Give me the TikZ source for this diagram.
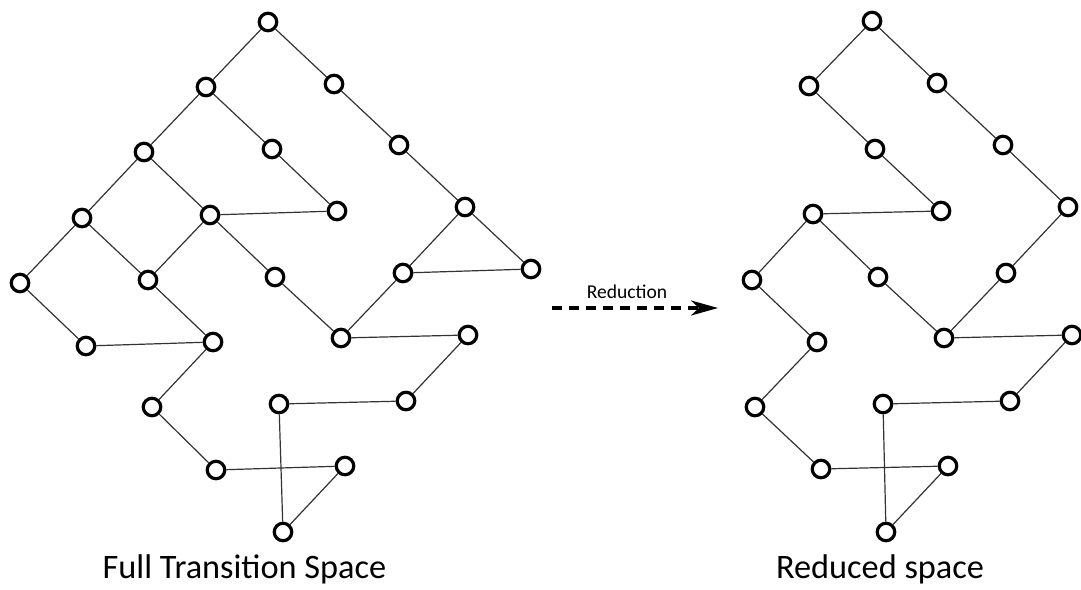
\documentclass[tikz,border=0pt]{standalone}
\usepackage{fontspec}
\setmainfont{Carlito}
\usetikzlibrary{arrows.meta}
\begin{document}
\begin{tikzpicture}[x=1pt,y=-1pt,
  state/.style={circle,draw=black,line width=3.2pt,fill=white,inner sep=0pt,minimum size=17.5pt},
  link/.style={draw=black!80,line width=1.2pt},
  caption/.style={font=\fontsize{34.3}{38}\selectfont,anchor=base}]
\useasboundingbox (0,0) rectangle (1081,589);

% ---- full transition space ----
\foreach \n/\x/\y in {a1/268/22,a2/206/87,a3/334/84,a4/144/152,a5/272/149,
  a6/399/145,a7/82/218,a8/210/215,a9/337/211,a10/465/207,a11/20/283,
  a12/148/280,a13/275/277,a14/403/273,a15/531/269,a16/86/346,a17/213/342,
  a18/341/338,a19/468/335,a20/152/407,a21/279/404,a22/406/401,a23/216/470,
  a24/345/466,a25/283/532}
  \node[state] (\n) at (\x,\y) {};

\foreach \u/\v in {a1/a2,a1/a3,a2/a4,a2/a5,a3/a6,a4/a7,a4/a8,a5/a9,a6/a10,
  a7/a11,a7/a12,a8/a12,a8/a9,a8/a13,a10/a14,a10/a15,a14/a15,a11/a16,a16/a17,
  a12/a17,a13/a18,a14/a18,a18/a19,a19/a22,a22/a21,a21/a25,a25/a24,a24/a23,
  a23/a20,a20/a17}
  \draw[link] (\u) -- (\v);

% ---- reduced space ----
\foreach \n/\x/\y in {b1/872/21,b2/809/86,b3/937/83,b5/875/149,b6/1003/145,
  b8/813/214,b9/941/211,b10/1068/207,b12/752/280,b13/878/277,b14/1006/273,
  b17/817/342,b18/944/338,b19/1072/335,b20/755/407,b21/883/404,b22/1010/401,
  b23/821/469,b24/948/466,b25/886/532}
  \node[state] (\n) at (\x,\y) {};

\foreach \u/\v in {b1/b2,b1/b3,b2/b5,b5/b9,b3/b6,b6/b10,b8/b9,b8/b12,b8/b13,
  b10/b14,b14/b18,b13/b18,b18/b19,b19/b22,b22/b21,b21/b25,b25/b24,b24/b23,
  b23/b20,b20/b17,b17/b12}
  \draw[link] (\u) -- (\v);

% ---- reduction arrow ----
\coordinate (rs) at (552,308);
\coordinate (re) at (718,308);
\draw[line width=3.4pt,dash pattern=on 10pt off 7pt,
  -{Stealth[length=27pt,width=15pt,inset=8pt]}] (rs) -- (re);
\node[font=\fontsize{19.6}{22}\selectfont,anchor=base] (rl) at (627,298) {Reduction};

% ---- captions ----
\node[caption] (cl) at (244.5,578) {Full Transition Space};
\node[caption] (cr) at (880,578) {Reduced space};
\end{tikzpicture}
\end{document}
